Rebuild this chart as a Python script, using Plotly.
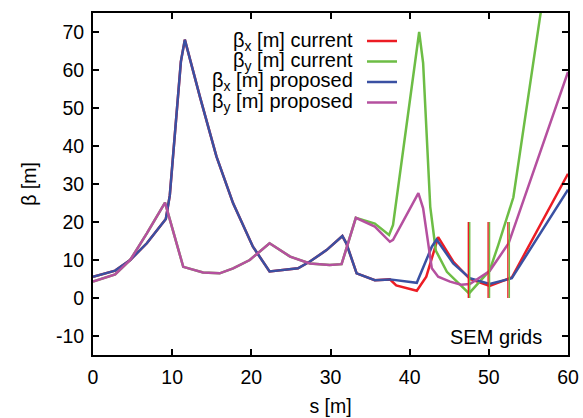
import plotly.graph_objects as go

# ---- data ----
s_bx_prop = [0, 2.8, 4.7, 6.8, 9.2, 9.7, 11.1, 11.6, 13.5, 15.6, 17.7, 20.2, 22.3, 25.9,
             27.4, 29.5, 31.5, 32.0, 33.3, 35.6, 37.5, 40.9, 42.8, 43.4, 45.5, 47.6,
             50.1, 52.9, 60]
bx_prop = [5.6, 7.2, 10.0, 14.4, 20.8, 27.0, 62.2, 68.0, 53.0, 37.2, 24.9, 13.5, 7.0, 7.8,
           9.6, 12.6, 16.3, 14.4, 6.5, 4.7, 4.9, 4.0, 13.5, 15.4, 9.1, 5.2,
           3.7, 5.2, 28.5]

s_bx_cur = [0, 2.8, 4.7, 6.8, 9.2, 9.7, 11.1, 11.6, 13.5, 15.6, 17.7, 20.2, 22.3, 25.9,
            27.4, 29.5, 31.5, 32.0, 33.3, 35.6, 37.5, 38.3, 40.9, 42.1, 43.6, 45.5,
            47.6, 50.1, 52.9, 60]
bx_cur = [5.6, 7.2, 10.0, 14.4, 20.8, 27.0, 62.2, 68.0, 53.0, 37.2, 24.9, 13.5, 7.0, 7.8,
          9.6, 12.6, 16.3, 14.4, 6.5, 4.7, 4.9, 3.3, 1.9, 5.6, 16.0, 9.6,
          5.0, 3.2, 5.4, 32.7]

s_by_prop = [0, 2.8, 4.7, 6.8, 9.1, 11.4, 13.9, 16.0, 17.7, 19.8, 22.3, 24.9, 27.4, 29.9,
             31.4, 33.2, 35.6, 37.5, 37.9, 41.1, 41.7, 42.8, 43.6, 45.1, 46.5, 47.6,
             50.1, 52.5, 60]
by_prop = [4.3, 6.2, 10.0, 17.0, 25.1, 8.2, 6.7, 6.5, 7.8, 10.0, 14.4, 10.9, 9.1, 8.7,
           8.9, 21.1, 18.8, 14.8, 15.3, 27.6, 23.6, 7.8, 5.6, 4.3, 3.5, 3.7,
           7.1, 14.4, 59.5]

s_by_cur = [0, 2.8, 4.7, 6.8, 9.1, 11.4, 13.9, 16.0, 17.7, 19.8, 22.3, 24.9, 27.4, 29.9,
            31.4, 33.2, 35.6, 37.4, 37.9, 41.2, 41.7, 42.6, 43.3, 44.7, 47.5,
            50.1, 51.2, 52.4, 53.1, 56.4, 57.2]
by_cur = [4.3, 6.2, 10.0, 17.0, 25.1, 8.2, 6.7, 6.5, 7.8, 10.0, 14.4, 10.9, 9.1, 8.7,
          8.9, 21.1, 19.6, 16.6, 19.2, 70.0, 61.8, 24.0, 12.5, 6.9, 1.2,
          7.2, 14.0, 21.5, 26.5, 73.0, 84.0]

sem_s = [47.5, 50.0, 52.5]
sem_y = [0, 20]

x_ticks = [0, 10, 20, 30, 40, 50, 60]
y_ticks = [-10, 0, 10, 20, 30, 40, 50, 60, 70]
y_tick_labels = ["-10", "0", "10", "20", "30", "40", "50", "60", "70"]

series_names = ["β<sub>x</sub> [m] current", "β<sub>y</sub> [m] current",
                "β<sub>x</sub> [m] proposed", "β<sub>y</sub> [m] proposed"]

RED, GREEN, BLUE, PINK = "#ec1c24", "#6dbd45", "#3a50a2", "#b5509f"
colors = [RED, GREEN, BLUE, PINK]
FONT = "Liberation Sans, Arial, Helvetica, sans-serif"

fig = go.Figure()
for sx, sy, col in [(s_bx_cur, bx_cur, RED), (s_by_cur, by_cur, GREEN),
                    (s_bx_prop, bx_prop, BLUE), (s_by_prop, by_prop, PINK)]:
    fig.add_trace(go.Scatter(x=sx, y=sy, mode="lines", line=dict(color=col, width=2.5),
                             showlegend=False, hoverinfo="skip"))

for s in sem_s:
    fig.add_trace(go.Scatter(x=[s - 0.09, s - 0.09], y=sem_y, mode="lines",
                             line=dict(color=RED, width=1.4), showlegend=False,
                             hoverinfo="skip"))
    fig.add_trace(go.Scatter(x=[s + 0.09, s + 0.09], y=sem_y, mode="lines",
                             line=dict(color=GREEN, width=1.4), showlegend=False,
                             hoverinfo="skip"))

# gnuplot-style key: text right-aligned, sample line to the right
L, R, T, B = 93, 15, 13, 63
W, H = 583, 418
pw, ph = W - L - R, H - T - B
def px_x(p):
    return (p - L) / pw
def px_y(p):
    return 1 - (p - T) / ph

key_rows = [41, 61.5, 82, 102.5]
for name, col, yy in zip(series_names, colors, key_rows):
    fig.add_annotation(x=px_x(355), y=px_y(yy), xref="paper", yref="paper", text=name,
                       showarrow=False, xanchor="right", yanchor="middle",
                       font=dict(family=FONT, size=20, color="black"))
    fig.add_shape(type="line", xref="paper", yref="paper", x0=px_x(367), x1=px_x(397),
                  y0=px_y(yy), y1=px_y(yy), line=dict(color=col, width=2.5))

fig.add_annotation(x=px_x(544), y=px_y(337), xref="paper", yref="paper", text="SEM grids",
                   showarrow=False, xanchor="right", yanchor="middle",
                   font=dict(family=FONT, size=20, color="black"))

axis_common = dict(showgrid=False, zeroline=False, showline=True, linecolor="black",
                   linewidth=2, mirror="allticks", ticks="inside", ticklen=6,
                   tickwidth=1.5, tickcolor="black", automargin=False,
                   tickfont=dict(family=FONT, size=19.5, color="black"))

fig.update_layout(
    width=W, height=H, margin=dict(l=L, r=R, t=T, b=B),
    plot_bgcolor="white", paper_bgcolor="white",
    font=dict(family=FONT, size=18, color="black"),
    xaxis=dict(range=[0, 60], tickvals=x_ticks, ticklabelstandoff=4,
               title=dict(text="s [m]", standoff=12, font=dict(family=FONT, size=19.5)),
               **axis_common),
    yaxis=dict(range=[-15, 75], tickvals=y_ticks, ticktext=y_tick_labels,
               ticklabelstandoff=3,
               title=dict(text="β [m]", standoff=14, font=dict(family=FONT, size=19.5)),
               **axis_common),
)

fig.write_html("out.html", config={"displayModeBar": False},
               post_script="document.body.style.margin='0';")
